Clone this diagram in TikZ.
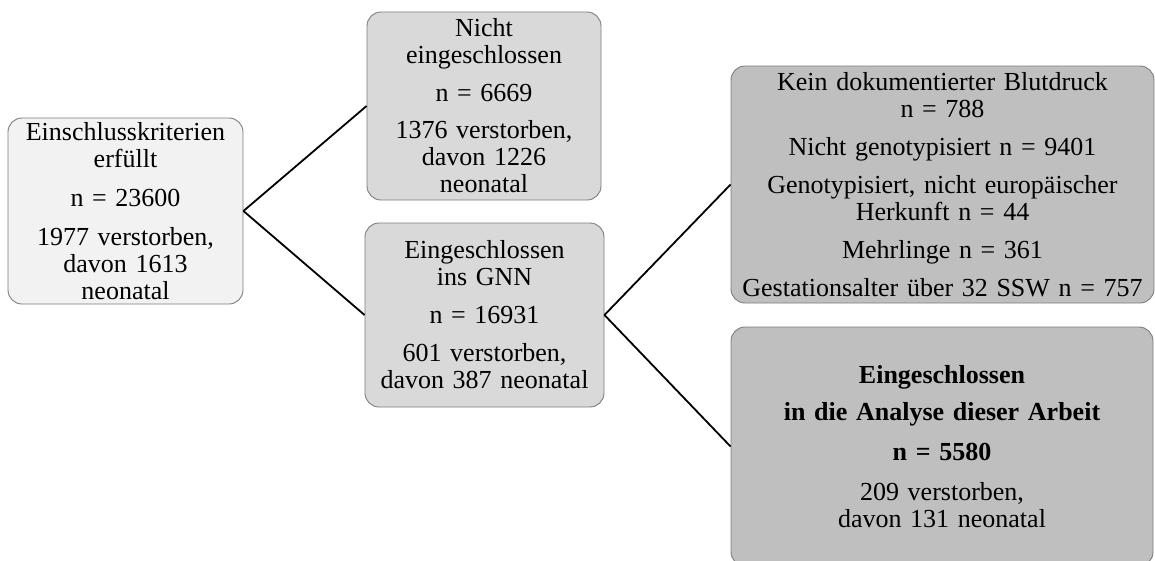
\documentclass[tikz,border=0pt]{standalone}
\usepackage{fontspec}
\setmainfont{Liberation Serif}
\definecolor{boxline}{RGB}{125,125,125}
\definecolor{fillA}{RGB}{242,242,242}
\definecolor{fillB}{RGB}{217,217,217}
\definecolor{fillD}{RGB}{191,191,191}
\begin{document}
\begin{tikzpicture}[x=1pt,y=-1pt,
  flowbox/.style={draw=boxline, line width=0.9pt, rounded corners=14pt, inner sep=0pt,
    align=center, font=\fontsize{26}{27}\selectfont, anchor=center},
  link/.style={line width=1.8pt, black}]
\clip (0,0) rectangle (1155,560);
\fill[white] (0,0) rectangle (1155,560);
\node[flowbox, fill=fillA, minimum width=235pt, minimum height=186pt, text width=233pt] (a) at (125.5,211)
  {Einschlusskriterien\\ erfüllt\\[12pt] n = 23600\\[12pt] 1977 verstorben,\\ davon 1613\\ neonatal};
\node[flowbox, fill=fillB, minimum width=234pt, minimum height=188pt, text width=232pt] (b) at (484,106)
  {Nicht\\ eingeschlossen\\[11pt] n = 6669\\[10pt] 1376 verstorben,\\ davon 1226\\ neonatal};
\node[flowbox, fill=fillB, minimum width=239pt, minimum height=184pt, text width=237pt] (c) at (484.5,315)
  {Eingeschlossen\\ ins GNN\\[11pt] n = 16931\\[11pt] 601 verstorben,\\ davon 387 neonatal};
\node[flowbox, fill=fillD, minimum width=423pt, minimum height=237pt, text width=421pt] (d) at (942.5,184.5)
  {Kein dokumentierter Blutdruck\\ n = 788\\[11pt] Nicht genotypisiert n = 9401\\[11pt] Genotypisiert, nicht europäischer\\ Herkunft n = 44\\[11pt] Mehrlinge n = 361\\[11pt] Gestationsalter über 32 SSW n = 757};
\node[flowbox, fill=fillD, minimum width=422pt, minimum height=239pt, text width=420pt] (e) at (942,446.5)
  {\textbf{Eingeschlossen}\\[10pt] \textbf{in die Analyse dieser Arbeit}\\[13pt] \textbf{n = 5580}\\[13pt] 209 verstorben,\\ davon 131 neonatal};
\draw[link] (a.east) -- (b.west);
\draw[link] (a.east) -- (c.west);
\draw[link] (c.east) -- (d.west);
\draw[link] (c.east) -- (e.west);
\end{tikzpicture}
\end{document}
